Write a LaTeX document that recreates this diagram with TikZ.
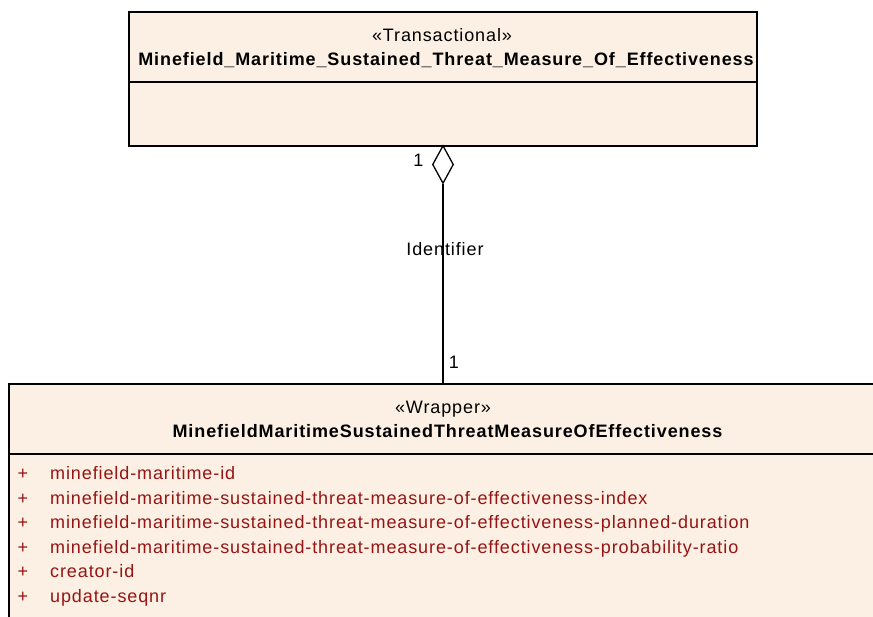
\documentclass[tikz,border=0pt]{standalone}
\usepackage{fontspec}
\usetikzlibrary{shapes.geometric}
\newfontfamily\umlfont{Liberation Sans}[LetterSpace=5]
\definecolor{umlfill}{RGB}{251,240,227}
\definecolor{attrred}{RGB}{150,20,20}
\tikzset{
  classbox/.style={draw=black, line width=1.3pt, fill=umlfill, inner sep=0pt},
  umltext/.style={font=\umlfont\fontsize{18}{20}\selectfont, inner sep=0pt, anchor=base},
  attr/.style={umltext, text=attrred, anchor=base west},
  divider/.style={line width=1.3pt},
}
\begin{document}
\begin{tikzpicture}[x=1pt,y=-1pt]
\useasboundingbox (0,0) rectangle (873,616);
\clip (0,0) rectangle (873,616);
% top class
\node[classbox, minimum width=628pt, minimum height=134pt] (top) at (443,79) {};
\draw[divider] (129,82) coordinate (tdl) -- (757,82) coordinate (tdr);
\node[umltext] (tster) at (442,41.7) {«Transactional»};
\node[umltext, font=\umlfont\fontsize{18}{20}\selectfont\bfseries] (tname) at (446,65) {Minefield\_Maritime\_Sustained\_Threat\_Measure\_Of\_Effectiveness};
% bottom class
\node[classbox, minimum width=920pt, minimum height=280pt] (bot) at (469,524) {};
\draw[divider] (9,454) coordinate (bdl) -- (930,454) coordinate (bdr);
\node[umltext] (bster) at (443,413.3) {«Wrapper»};
\node[umltext, font=\umlfont\fontsize{18}{20}\selectfont\bfseries] (bname) at (447.5,437.7) {MinefieldMaritimeSustainedThreatMeasureOfEffectiveness};
\foreach \t [count=\i from 0] in {minefield-maritime-id,
  minefield-maritime-sustained-threat-measure-of-effectiveness-index,
  minefield-maritime-sustained-threat-measure-of-effectiveness-planned-duration,
  minefield-maritime-sustained-threat-measure-of-effectiveness-probability-ratio,
  creator-id,
  update-seqnr}{
  \node[attr, anchor=base] (p\i) at (23,479.5+24.6*\i) {+};
  \node[attr] (a\i) at (50,479.5+24.6*\i) {\t};
}
% aggregation
\node[diamond, draw=black, line width=1.3pt, fill=white, minimum width=21pt, minimum height=38pt, inner sep=0pt] (dia) at (443,164.5) {};
\draw[line width=1.3pt] (dia.south) -- (dia.south |- bot.north);
\node[umltext] (m1) at (418.5,166.7) {1};
\node[umltext] (m2) at (454,368.3) {1};
\node[umltext] (lbl) at (445,255) {Identifier};
\end{tikzpicture}
\end{document}
